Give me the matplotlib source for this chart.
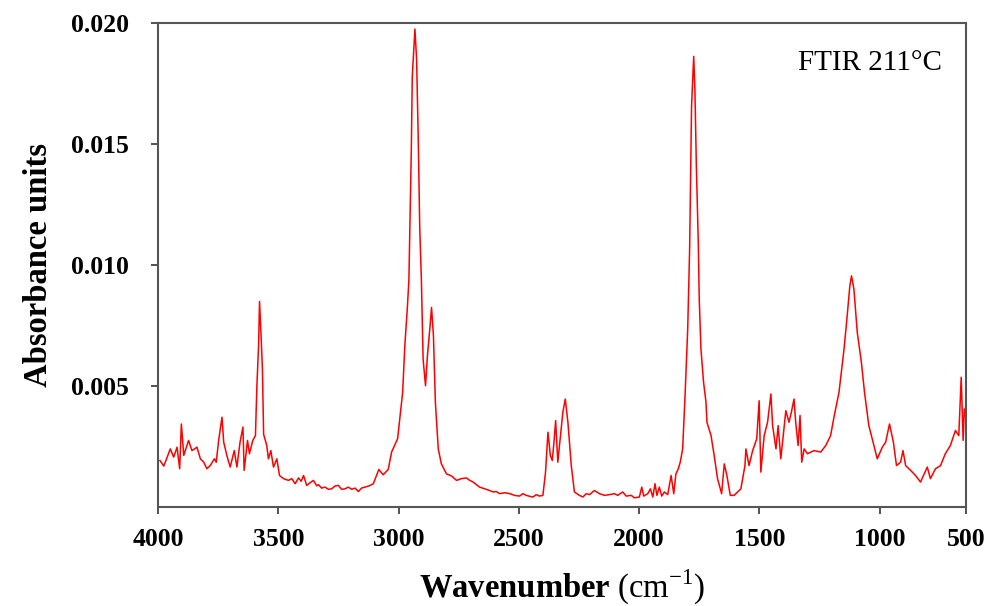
import matplotlib
matplotlib.use("Agg")
import matplotlib.pyplot as plt

# FTIR spectrum at 211 C
wavenumber = [
    3992, 3976, 3949, 3935, 3921, 3910, 3903, 3893, 3873, 3859, 3838, 3824, 3810, 3797,
    3783, 3766, 3758, 3748, 3734, 3727, 3714, 3700, 3683, 3672, 3659, 3647, 3642, 3628,
    3620, 3606, 3595, 3589, 3582, 3578, 3571, 3566, 3561, 3548, 3541, 3531, 3520, 3506,
    3495, 3478, 3458, 3444, 3430, 3416, 3405, 3395, 3382, 3368, 3354, 3340, 3333, 3320,
    3306, 3292, 3278, 3264, 3250, 3237, 3223, 3209, 3195, 3181, 3167, 3154, 3140, 3123,
    3105, 3082, 3064, 3043, 3029, 3004, 2995, 2983, 2974, 2963, 2957,
    2953, 2947, 2943, 2932, 2925, 2918, 2912, 2905, 2898, 2888, 2880, 2869, 2863, 2855,
    2847, 2835, 2822, 2801, 2780, 2759, 2739, 2718, 2704, 2690, 2676, 2663, 2642, 2621,
    2607, 2594, 2580, 2559, 2538, 2518, 2497, 2483, 2469, 2455, 2441, 2428, 2414, 2400,
    2389, 2379, 2369, 2361, 2354, 2347, 2338, 2328, 2317,
    2307, 2296, 2282, 2269, 2248, 2234, 2220, 2206, 2186, 2165, 2144, 2123, 2103, 2089,
    2068, 2054, 2033, 2020, 1999, 1989, 1981, 1964, 1953, 1943, 1934, 1926, 1916, 1906,
    1895, 1881, 1867, 1856, 1847, 1837, 1829,
    1819, 1809, 1798, 1790, 1787, 1782, 1773, 1768, 1762, 1754,
    1750, 1743, 1732, 1722, 1718, 1701, 1688, 1674, 1657, 1646, 1635, 1621, 1605, 1577,
    1560, 1556, 1543, 1528, 1511, 1501, 1494, 1480, 1466, 1452, 1445, 1431, 1422, 1411,
    1390, 1377, 1367, 1356, 1349, 1339, 1331, 1324, 1314, 1300, 1273, 1245, 1224, 1204,
    1190, 1169, 1148, 1135, 1124, 1117, 1107, 1093, 1076, 1063, 1045, 1031, 1010, 989,
    975, 959, 943, 930, 913, 903, 892, 871, 851, 830, 802, 789, 768, 747,
    727, 706, 685, 671, 661, 653, 648, 641,
]
absorbance = [
    0.00192, 0.00169, 0.00240, 0.00206, 0.00247, 0.00158, 0.00343, 0.00213, 0.00275, 0.00233, 0.00247, 0.00199, 0.00185, 0.00158,
    0.00171, 0.00199, 0.00185, 0.00275, 0.00371, 0.00268, 0.00213, 0.00165, 0.00233, 0.00165, 0.00268, 0.00330, 0.00151, 0.00275,
    0.00220, 0.00275, 0.00295, 0.00500, 0.00666, 0.00849, 0.00694, 0.00570, 0.00300, 0.00254, 0.00199, 0.00233, 0.00165, 0.00199,
    0.00130, 0.00117, 0.00110, 0.00117, 0.00096, 0.00120, 0.00106, 0.00130, 0.00089, 0.00100, 0.00110, 0.00087, 0.00092, 0.00078,
    0.00082, 0.00073, 0.00075, 0.00087, 0.00089, 0.00073, 0.00075, 0.00082, 0.00073, 0.00078, 0.00064, 0.00078, 0.00082, 0.00087,
    0.00096, 0.00155, 0.00133, 0.00155, 0.00227, 0.00282, 0.00364, 0.00474, 0.00666, 0.00831, 0.00941,
    0.01147, 0.01477, 0.01779, 0.01975, 0.01848, 0.01511, 0.01154, 0.00934, 0.00611, 0.00501, 0.00625, 0.00749, 0.00824, 0.00707,
    0.00433, 0.00240, 0.00178, 0.00137, 0.00128, 0.00110, 0.00117, 0.00120, 0.00110, 0.00103, 0.00092, 0.00082, 0.00075, 0.00068,
    0.00062, 0.00064, 0.00055, 0.00059, 0.00055, 0.00048, 0.00045, 0.00055, 0.00048, 0.00044, 0.00041, 0.00051, 0.00045, 0.00048,
    0.00144, 0.00309, 0.00213, 0.00192, 0.00268, 0.00357, 0.00185, 0.00282, 0.00392,
    0.00446, 0.00350, 0.00171, 0.00062, 0.00048, 0.00041, 0.00055, 0.00051, 0.00068, 0.00055, 0.00048, 0.00051, 0.00055, 0.00048,
    0.00062, 0.00045, 0.00048, 0.00038, 0.00041, 0.00082, 0.00045, 0.00055, 0.00075, 0.00041, 0.00096, 0.00048, 0.00082, 0.00045,
    0.00062, 0.00051, 0.00130, 0.00055, 0.00137, 0.00158, 0.00185,
    0.00240, 0.00460, 0.00735, 0.01065, 0.01298, 0.01655, 0.01862, 0.01724, 0.01408, 0.01092,
    0.00859, 0.00653, 0.00515, 0.00433, 0.00350, 0.00295, 0.00213, 0.00117, 0.00055, 0.00178, 0.00130, 0.00048, 0.00048, 0.00075,
    0.00171, 0.00240, 0.00171, 0.00233, 0.00282, 0.00439, 0.00144, 0.00295, 0.00350, 0.00467, 0.00336, 0.00240, 0.00336, 0.00199,
    0.00398, 0.00350, 0.00392, 0.00446, 0.00350, 0.00254, 0.00378, 0.00185, 0.00240, 0.00220, 0.00233, 0.00227, 0.00254, 0.00295,
    0.00371, 0.00474, 0.00653, 0.00790, 0.00913, 0.00955, 0.00900, 0.00721, 0.00598, 0.00474, 0.00336, 0.00282, 0.00199, 0.00247,
    0.00268, 0.00343, 0.00268, 0.00171, 0.00185, 0.00233, 0.00171, 0.00151, 0.00130, 0.00103, 0.00165, 0.00117, 0.00158, 0.00171,
    0.00220, 0.00254, 0.00316, 0.00295, 0.00536, 0.00275, 0.00405, 0.00364,
]

# tick positions/labels as printed on the original (right end is labelled 500)
x_ticks = [4000, 3500, 3000, 2500, 2000, 1500, 1000, 641]
x_tick_labels = ["4000", "3500", "3000", "2500", "2000", "1500", "1000", "500"]
y_ticks = [0.005, 0.010, 0.015, 0.020]
y_tick_labels = ["0.005", "0.010", "0.015", "0.020"]

plt.rcParams['font.family'] = ['Liberation Serif', 'DejaVu Serif']
plt.rcParams['mathtext.fontset'] = 'custom'
plt.rcParams['mathtext.rm'] = 'Liberation Serif'
plt.rcParams['mathtext.bf'] = 'Liberation Serif:bold'

fig = plt.figure(figsize=(9.92, 6.06), dpi=100)
ax = fig.add_axes([0.1593, 0.1634, 0.8145, 0.7987])

ax.plot(wavenumber, absorbance, color='#ff0000', linewidth=1.1)

ax.set_xlim(4000, 641)
ax.set_ylim(0, 0.020)
ax.set_xticks(x_ticks)
ax.set_xticklabels(x_tick_labels, fontsize=18.5, fontweight='bold')
ax.set_yticks(y_ticks)
ax.set_yticklabels(y_tick_labels, fontsize=18.5, fontweight='bold')
ax.tick_params(axis='x', direction='out', length=5, width=1.3, color='#444444', pad=10)
ax.tick_params(axis='y', direction='out', length=5, width=1.3, color='#444444', pad=16)
for s in ax.spines.values():
    s.set_color('#555555')
    s.set_linewidth(1.5)

ax.set_xlabel(r"$\mathbf{Wavenumber}$ (cm$^{-1}$)", fontsize=23.5, labelpad=12)
ax.set_ylabel("Absorbance units", fontsize=23.5, fontweight='bold', labelpad=12)
ax.text(0.97, 0.945, "FTIR 211\u00b0C", transform=ax.transAxes, ha='right', va='top', fontsize=21)

fig.savefig("out.png", dpi=100)
